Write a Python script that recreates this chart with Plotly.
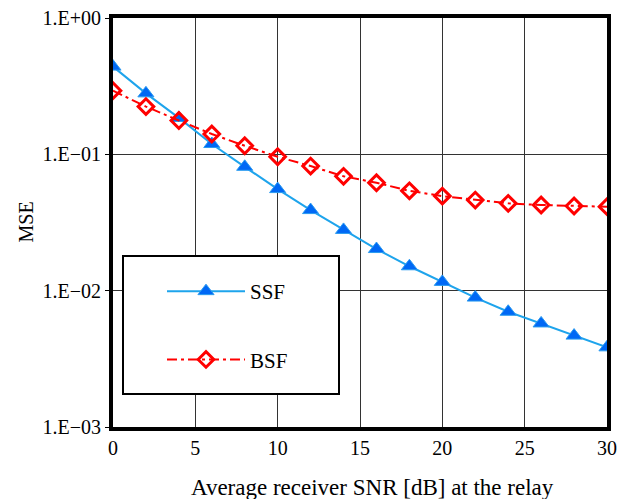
import plotly.graph_objects as go

snr = [0, 2, 4, 6, 8, 10, 12, 14, 16, 18, 20, 22, 24, 26, 28, 30]
ssf = [0.44, 0.28, 0.185, 0.119, 0.081, 0.0556, 0.039, 0.0279, 0.0202, 0.0151,
       0.0116, 0.0089, 0.0070, 0.00575, 0.00468, 0.00384]
bsf = [0.293, 0.224, 0.177, 0.141, 0.1156, 0.096, 0.082, 0.069, 0.0619, 0.054,
       0.0494, 0.0462, 0.0437, 0.0425, 0.0418, 0.0413]
ytick_vals = [1e-3, 1e-2, 1e-1, 1e0]
ytick_text = ["1.E\u221203", "1.E\u221202", "1.E\u221201", "1.E+00"]
xtick_vals = [0, 5, 10, 15, 20, 25, 30]
x_title = "Average receiver SNR [dB] at the relay"
y_title = "MSE"

FONT = "Liberation Serif, Times New Roman, serif"

# page has an 8px body margin; work in page coordinates and compensate
OFF = 8
W, H = 633 - OFF, 499 - OFF
L, R, T, B = 113, 607, 18, 427
PW, PH = R - L, B - T

fig = go.Figure()
fig.add_trace(go.Scatter(
    x=snr, y=ssf, name="SSF", mode="lines+markers",
    line=dict(color="#1EA4EC", width=2),
    marker=dict(symbol="triangle-up", size=14, color="#0068F5",
                line=dict(color="#2A9BF0", width=1)),
    legendgroup="a",
))
fig.add_trace(go.Scatter(
    x=snr, y=bsf, name="BSF", mode="lines+markers",
    line=dict(color="#FF0000", width=2, dash="10px,4px,3px,4px"),
    marker=dict(symbol="diamond-open", size=12, color="#FF0000",
                line=dict(color="#FF0000", width=3)),
    legendgroup="b",
))

# legend frame
fig.add_shape(type="rect", xref="paper", yref="paper",
              x0=(123 - L) / PW, x1=(339 - L) / PW,
              y0=(B - 394) / PH, y1=(B - 256) / PH,
              line=dict(color="black", width=2), fillcolor="white", layer="above")

fig.add_annotation(text=y_title, xref="paper", yref="paper",
                   x=(25 - L) / PW, y=0.5, xanchor="center", yanchor="middle",
                   textangle=-90, showarrow=False,
                   font=dict(family=FONT, size=20))
fig.add_annotation(text=x_title, xref="paper", yref="paper",
                   x=(372 - L) / PW, y=(B - 487) / PH, xanchor="center", yanchor="middle",
                   showarrow=False, font=dict(family=FONT, size=23))

fig.update_layout(
    width=W, height=H,
    margin=dict(l=L - OFF, r=W - (R - OFF), t=T - OFF, b=H - (B - OFF)),
    paper_bgcolor="white", plot_bgcolor="white",
    font=dict(family=FONT, size=20, color="black"),
    showlegend=True,
    legend=dict(x=(162 - L) / PW, y=(B - 271) / PH, xanchor="left", yanchor="top",
                bgcolor="rgba(0,0,0,0)", borderwidth=0,
                font=dict(family=FONT, size=21),
                tracegroupgap=38, itemwidth=78),
)
fig.update_xaxes(
    range=[0, 30], tickvals=xtick_vals, showgrid=True, gridcolor="#333333", gridwidth=1,
    showline=True, linecolor="black", linewidth=4, mirror=True, ticks="",
    zeroline=False, automargin=False, ticklabeloverflow="allow",
    tickfont=dict(size=20),
)
fig.update_yaxes(
    type="log", range=[-3, 0], tickvals=ytick_vals, ticktext=ytick_text,
    showgrid=True, gridcolor="#333333", gridwidth=1,
    showline=True, linecolor="black", linewidth=4, mirror=True,
    ticks="outside", ticklen=4, tickcolor="black",
    zeroline=False, automargin=False, ticklabeloverflow="allow",
    tickfont=dict(size=20),
)
fig.write_html("out.html")
